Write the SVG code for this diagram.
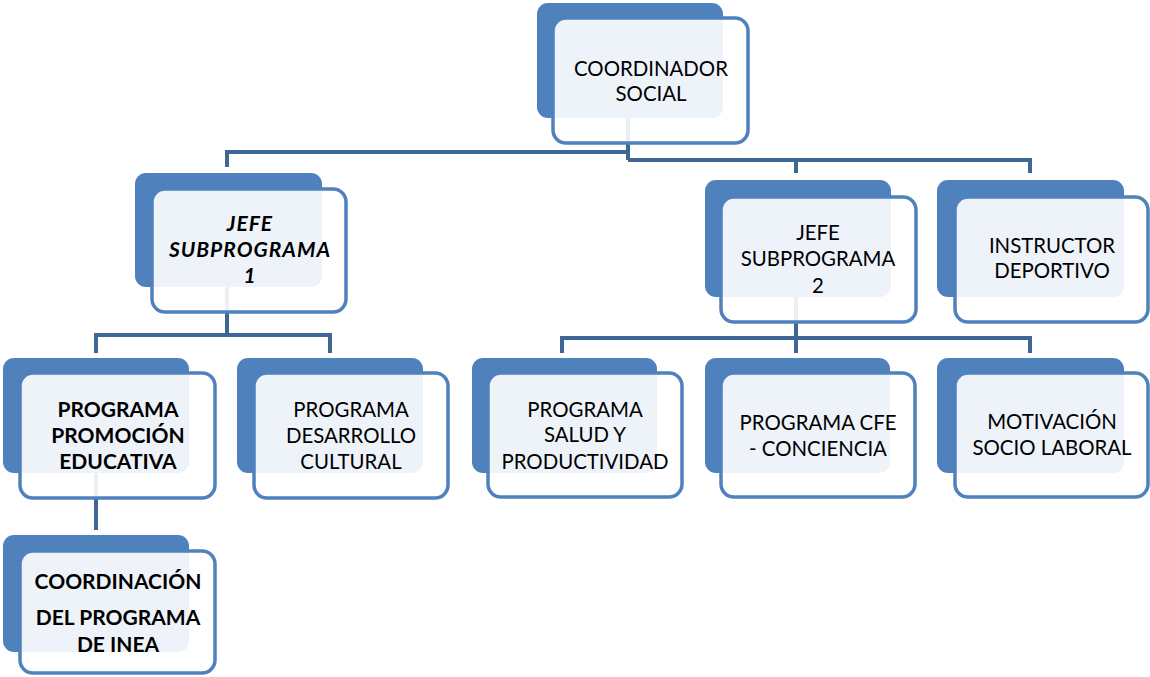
<svg xmlns="http://www.w3.org/2000/svg" width="1150" height="677" viewBox="0 0 1150 677">
<style>
.bk{fill:#4f81bd}
.fr{fill:#ffffff;fill-opacity:0.9;stroke:#4f81bd;stroke-width:3.5}
.cn{fill:none;stroke:#3e6796;stroke-width:4}
text{font-family:Lato,"Open Sans","Liberation Sans",sans-serif;font-size:20.4px;fill:#000;text-anchor:middle}
.b{font-weight:bold;font-size:21px}
.bi{font-weight:bold;font-style:italic;font-size:21px;letter-spacing:1px}
</style>
<rect width="1150" height="677" fill="#ffffff"/>
<g id="connectors">
<path class="cn" d="M628 118 V160 M628 152 H227 V167 M628 160 H1030 V173 M796 160 V173"/>
<path class="cn" d="M227 287 V335 M96 353 V335 H330 V353"/>
<path class="cn" d="M796 297 V353 M562 353 V338 H1030 V353"/>
<path class="cn" d="M96 473 V530"/>
</g>
<g id="coordinador-social">
<rect class="bk" x="537" y="3" width="186" height="115" rx="11"/>
<rect class="fr" x="553" y="18" width="195" height="125" rx="13"/>
<text x="651" y="76">COORDINADOR</text>
<text x="651" y="101">SOCIAL</text>
</g>
<g id="jefe-subprograma-1">
<rect class="bk" x="135" y="173" width="187" height="114" rx="11"/>
<rect class="fr" x="152" y="189" width="194" height="123" rx="13"/>
<text class="bi" x="250" y="231">JEFE</text>
<text class="bi" x="250" y="257">SUBPROGRAMA</text>
<text class="bi" x="250" y="283">1</text>
</g>
<g id="jefe-subprograma-2">
<rect class="bk" x="705" y="180" width="186" height="117" rx="11"/>
<rect class="fr" x="721" y="197" width="195" height="125" rx="13"/>
<text x="818" y="240">JEFE</text>
<text x="818" y="266">SUBPROGRAMA</text>
<text x="818" y="293">2</text>
</g>
<g id="instructor-deportivo">
<rect class="bk" x="937" y="180" width="187" height="117" rx="11"/>
<rect class="fr" x="955" y="197" width="193" height="125" rx="13"/>
<text x="1052" y="253">INSTRUCTOR</text>
<text x="1052" y="278">DEPORTIVO</text>
</g>
<g id="programa-promocion-educativa">
<rect class="bk" x="3" y="358" width="186" height="115" rx="11"/>
<rect class="fr" x="20" y="373" width="195" height="125" rx="13"/>
<text class="b" x="118" y="417">PROGRAMA</text>
<text class="b" x="118" y="443">PROMOCIÓN</text>
<text class="b" x="118" y="469">EDUCATIVA</text>
</g>
<g id="programa-desarrollo-cultural">
<rect class="bk" x="237" y="358" width="186" height="115" rx="11"/>
<rect class="fr" x="254" y="373" width="194" height="125" rx="13"/>
<text x="351" y="417">PROGRAMA</text>
<text x="351" y="443">DESARROLLO</text>
<text x="351" y="469">CULTURAL</text>
</g>
<g id="programa-salud-productividad">
<rect class="bk" x="472" y="358" width="185" height="115" rx="11"/>
<rect class="fr" x="488" y="373" width="194" height="124" rx="13"/>
<text x="585" y="417">PROGRAMA</text>
<text x="585" y="442">SALUD Y</text>
<text x="585" y="469">PRODUCTIVIDAD</text>
</g>
<g id="programa-cfe-conciencia">
<rect class="bk" x="705" y="358" width="185" height="115" rx="11"/>
<rect class="fr" x="721" y="373" width="194" height="124" rx="13"/>
<text x="818" y="430">PROGRAMA CFE</text>
<text x="818" y="456">- CONCIENCIA</text>
</g>
<g id="motivacion-socio-laboral">
<rect class="bk" x="937" y="358" width="187" height="115" rx="11"/>
<rect class="fr" x="955" y="373" width="193" height="124" rx="13"/>
<text x="1052" y="429">MOTIVACIÓN</text>
<text x="1052" y="455">SOCIO LABORAL</text>
</g>
<g id="coordinacion-programa-inea">
<rect class="bk" x="3" y="535" width="186" height="117" rx="11"/>
<rect class="fr" x="20" y="551" width="195" height="122" rx="13"/>
<text class="b" x="118" y="589">COORDINACIÓN</text>
<text class="b" x="118" y="625">DEL PROGRAMA</text>
<text class="b" x="118" y="652">DE INEA</text>
</g>
</svg>
